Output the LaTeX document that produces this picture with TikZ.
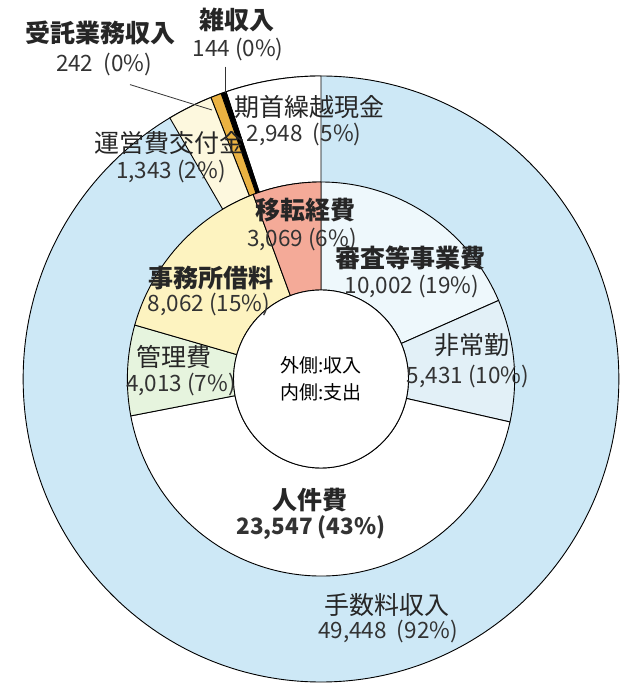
\documentclass[tikz,border=0pt]{standalone}
\usepackage{fontspec}
\setmainfont{Noto Sans CJK JP}
\usepackage{xcolor}
\usepackage{tikz}

\definecolor{feeblue}{RGB}{205,232,246}
\definecolor{grantcream}{RGB}{253,248,222}
\definecolor{trustorange}{RGB}{234,178,66}
\definecolor{examblue}{RGB}{238,248,252}
\definecolor{parttimeblue}{RGB}{226,240,247}
\definecolor{admingreen}{RGB}{230,244,222}
\definecolor{rentyellow}{RGB}{253,243,192}
\definecolor{movesalmon}{RGB}{244,170,152}

\begin{document}
\begin{tikzpicture}[x=1pt,y=1pt,
        seg/.style={draw=black,line width=0.9pt},
        lbl/.style={inner sep=0pt,text=black!85,font=\fontsize{25}{26}\selectfont},
        boldlbl/.style={lbl,font=\fontsize{25}{26}\selectfont\bfseries},
        val/.style={inner sep=0pt,text=black!80,font=\fontsize{22.5}{24}\selectfont},
        leader/.style={draw=black!80,line width=0.8pt}]
                \useasboundingbox (-321,-305) rectangle (299,379);

                \begin{scope}[xscale=0.983]
                % outer ring: income
                \filldraw[seg,fill=feeblue] (0,0) circle [radius=303];
                \filldraw[seg,fill=white] (90:197) -- (90:303) arc[start angle=90,end angle=108.6,radius=303] -- (108.6:197) arc[start angle=108.6,end angle=90,radius=197] -- cycle;
                \filldraw[seg,fill=black] (108.6:197) -- (108.6:303) arc[start angle=108.6,end angle=109.6,radius=303] -- (109.6:197) arc[start angle=109.6,end angle=108.6,radius=197] -- cycle;
                \filldraw[seg,fill=trustorange] (109.6:197) -- (109.6:303) arc[start angle=109.6,end angle=111.7,radius=303] -- (111.7:197) arc[start angle=111.7,end angle=109.6,radius=197] -- cycle;
                \filldraw[seg,fill=grantcream] (111.7:197) -- (111.7:303) arc[start angle=111.7,end angle=120.5,radius=303] -- (120.5:197) arc[start angle=120.5,end angle=111.7,radius=197] -- cycle;

                % inner ring: expenditure
                \filldraw[seg,fill=examblue] (90:89) -- (90:197) arc[start angle=90,end angle=23.5,radius=197] -- (23.5:89) arc[start angle=23.5,end angle=90,radius=89] -- cycle;
                \filldraw[seg,fill=parttimeblue] (23.5:89) -- (23.5:197) arc[start angle=23.5,end angle=-12.6,radius=197] -- (-12.6:89) arc[start angle=-12.6,end angle=23.5,radius=89] -- cycle;
                \filldraw[seg,fill=white] (-12.6:89) -- (-12.6:197) arc[start angle=-12.6,end angle=-169.2,radius=197] -- (-169.2:89) arc[start angle=-169.2,end angle=-12.6,radius=89] -- cycle;
                \filldraw[seg,fill=admingreen] (190.8:89) -- (190.8:197) arc[start angle=190.8,end angle=164.1,radius=197] -- (164.1:89) arc[start angle=164.1,end angle=190.8,radius=89] -- cycle;
                \filldraw[seg,fill=rentyellow] (164.1:89) -- (164.1:197) arc[start angle=164.1,end angle=110.5,radius=197] -- (110.5:89) arc[start angle=110.5,end angle=164.1,radius=89] -- cycle;
                \filldraw[seg,fill=movesalmon] (110.5:89) -- (110.5:197) arc[start angle=110.5,end angle=90,radius=197] -- (90:89) arc[start angle=90,end angle=110.5,radius=89] -- cycle;

                \filldraw[seg,fill=white] (0,0) circle [radius=89];
                \end{scope}

                % labels, outer ring
                \node[boldlbl] (taku) at (-220,346) {受託業務収入};
                \node[val] (takuval) at (-217,314) {242\ \ (0\%)};
                \node[boldlbl] (zatsu) at (-84,359) {雑収入};
                \node[val] (zatsuval) at (-83,329) {144 (0\%)};
                \node[lbl] (kishu) at (-12,272) {期首繰越現金};
                \node[val] (kishuval) at (-17,244) {2,948\ \ (5\%)};
                \node[lbl] (unei) at (-151,236) {運営費交付金};
                \node[val] (uneival) at (-150,207) {1,343 (2\%)};
                \node[lbl] (tesu) at (66,-226) {手数料収入};
                \node[val] (tesuval) at (67,-253) {49,448\ \ (92\%)};

                % labels, inner ring
                \node[boldlbl] (iten) at (-16,169) {移転経費};
                \node[val] (itenval) at (-19,139) {3,069 (6\%)};
                \node[boldlbl] (shinsa) at (89,121) {審査等事業費};
                \node[val] (shinsaval) at (91,92) {10,002 (19\%)};
                \node[boldlbl] (jimu) at (-110,101) {事務所借料};
                \node[val] (jimuval) at (-112,74) {8,062 (15\%)};
                \node[lbl] (kanri) at (-147,22) {管理費};
                \node[val] (kanrival) at (-140,-6) {4,013 (7\%)};
                \node[lbl] (hijo) at (151,34) {非常勤};
                \node[val] (hijoval) at (147,2) {5,431 (10\%)};
                \node[boldlbl] (jinken) at (-11,-121) {人件費};
                \node[val,font=\fontsize{22.5}{24}\selectfont\bfseries] (jinkenval) at (-10,-149) {23,547 (43\%)};

                \node[inner sep=0pt,font=\fontsize{19}{20}\selectfont] (outside) at (0,14) {外側:収入};
                \node[inner sep=0pt,font=\fontsize{19}{20}\selectfont] (inside) at (0,-13) {内側:支出};

                % leaders
                \coordinate (takuend) at (-109,269);
                \coordinate (zatsuend) at (-96,286);
                \draw[leader] ([xshift=26pt,yshift=-8pt]takuval.south) -- (takuend);
                \draw[leader] ([xshift=-13pt,yshift=-5pt]zatsuval.south) -- (zatsuend);
            \end{tikzpicture}
\end{document}
